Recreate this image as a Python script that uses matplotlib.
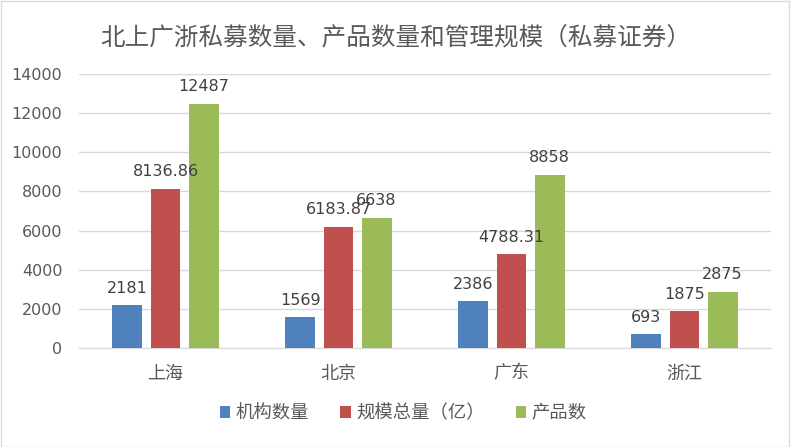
import matplotlib
matplotlib.use("Agg")
import matplotlib.pyplot as plt
import numpy as np

plt.rcParams['font.family'] = ['Noto Sans CJK SC', 'DejaVu Sans']

categories = ['上海', '北京', '广东', '浙江']
series_names = ['机构数量', '规模总量（亿）', '产品数']
inst = [2181, 1569, 2386, 693]
scale = [8136.86, 6183.87, 4788.31, 1875]
prods = [12487, 6638, 8858, 2875]
labels_inst = ['2181', '1569', '2386', '693']
labels_scale = ['8136.86', '6183.87', '4788.31', '1875']
labels_prods = ['12487', '6638', '8858', '2875']
colors = ['#4F81BD', '#C0504D', '#9BBB59']

fig = plt.figure(figsize=(7.91, 4.47), dpi=100)
ax = fig.add_axes([0.0999, 0.2215, 0.8748, 0.613])

x = np.arange(len(categories))
w = 0.173
off = 0.22
txtc = '#404040'
for i, (vals, labs) in enumerate(zip([inst, scale, prods], [labels_inst, labels_scale, labels_prods])):
    bars = ax.bar(x + (i - 1) * off, vals, width=w, color=colors[i], label=series_names[i], zorder=3)
    for b, l in zip(bars, labs):
        ax.annotate(l, (b.get_x() + b.get_width() / 2, b.get_height()), xytext=(0, 7),
                    textcoords='offset points', ha='center', va='bottom', fontsize=11.5, color=txtc,
                    family=['DejaVu Sans'], zorder=6)

ax.set_xlim(-0.5, 3.5)
ax.set_ylim(0, 14000)
ax.set_yticks(np.arange(0, 14001, 2000))
ax.set_yticklabels([str(v) for v in range(0, 14001, 2000)], family=['DejaVu Sans'])
ax.set_xticks(x)
ax.set_xticklabels(categories)
ax.tick_params(axis='y', length=0, labelsize=11.5, colors='#595959', pad=12)
ax.tick_params(axis='x', length=0, labelsize=13, colors='#595959', pad=12)
ax.grid(axis='y', color='#D9D9D9', linewidth=1, zorder=0)
for s in ['top', 'right', 'left']:
    ax.spines[s].set_visible(False)
ax.spines['bottom'].set_color('#D9D9D9')

fig.text(0.5, 0.917, '北上广浙私募数量、产品数量和管理规模（私募证券）', ha='center', va='center',
         fontsize=17.7, color='#595959')

leg = fig.legend(loc='center', bbox_to_anchor=(0.51, 0.075), ncol=3, frameon=False, fontsize=13.2,
                 handlelength=0.55, handleheight=0.55, columnspacing=1.7, handletextpad=0.3)
for t in leg.get_texts():
    t.set_color('#595959')

fig.patches.append(plt.Rectangle((0.001, 0.001), 0.997, 0.996, transform=fig.transFigure,
                                 fill=False, edgecolor='#D9D9D9', linewidth=1))

fig.savefig('out.png', dpi=100)
